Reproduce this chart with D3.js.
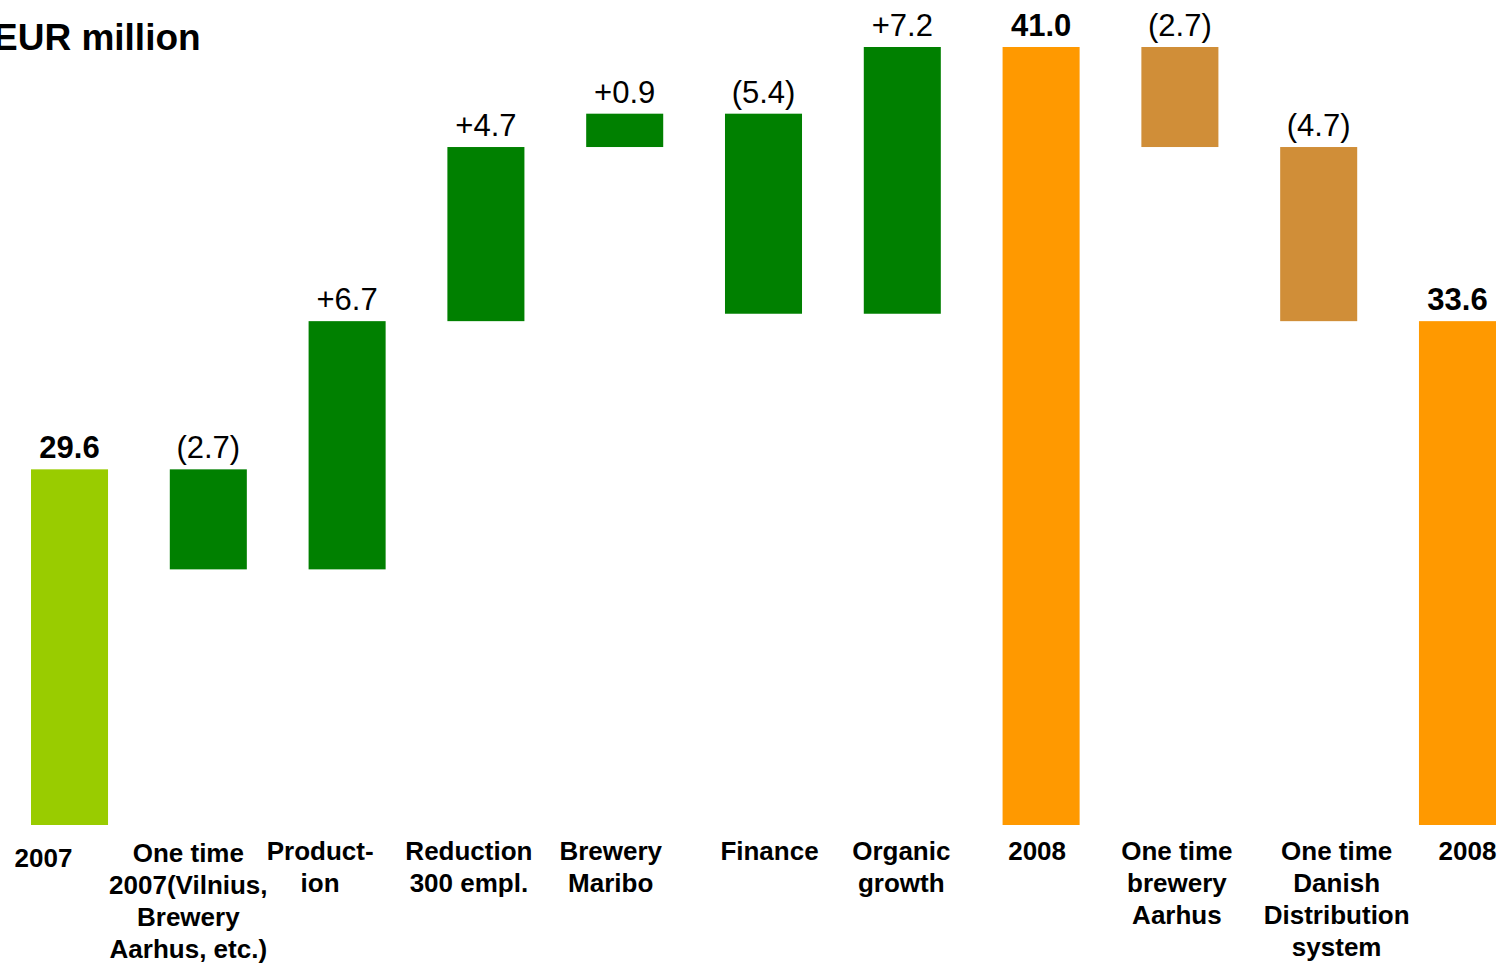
<!DOCTYPE html>
<html>
<head>
<meta charset="utf-8">
<script src="https://cdn.jsdelivr.net/npm/d3@7"></script>
<style>
    body { margin: 0; background: #fff; overflow: hidden; }
    #chart { width: 1501px; height: 963px; }
    text { font-family: 'Liberation Sans', Arial, Helvetica, sans-serif; fill: #000; }
</style>
</head>
<body>
<div id="chart"></div>
<script>
// EBIT bridge 2007 -> 2008, EUR million

const keys = [
    'y2007', 'oneTime2007', 'production', 'reduction', 'maribo', 'finance',
    'organic', 'y2008', 'oneTimeAarhus', 'oneTimeDistribution', 'y2008adj',
];
const categoryLines = [
    ['2007'],
    ['One time', '2007(Vilnius,', 'Brewery', 'Aarhus, etc.)'],
    ['Product-', 'ion'],
    ['Reduction', '300 empl.'],
    ['Brewery', 'Maribo'],
    ['Finance'],
    ['Organic', 'growth'],
    ['2008'],
    ['One time', 'brewery', 'Aarhus'],
    ['One time', 'Danish', 'Distribution', 'system'],
    ['2008'],
];
// totals are levels, the rest are changes
const values = [29.6, -2.7, 6.7, 4.7, 0.9, -5.4, 7.2, 41.0, -2.7, -4.7, 33.6];
const isTotal = [true, false, false, false, false, false, false, true, false, false, true];
// the value axis is cut: bars stand on 20, not on 0
const axisDomain = [20, 41];
const title = 'EUR million';

class WaterfallChart {
    marginObj = {
        top: 47, right: 5, bottom: 138, left: 31,
    };
    outerWidth = 1501;
    outerHeight = 963;
    rows = [];
    colors = {
        start: '#99cc00', gain: '#008000', total: '#ff9900', oneOff: '#d08e38',
    };
    // hand placed text boxes in the original slide
    labelDx = [-26, -20, -27, -17, -14, 6, -1, -4, -3, 18, 10];
    labelDy = [7, 2, 0, 0, 0, 0, 0, 0, 0, 0, 0];

    constructor(node) {
        this.container = d3.select(node);
        this.container.selectAll('*').remove();
    }

    data = () => {
        let running = 0;
        let stage = 0;
        this.rows = keys.map((key, i) => {
            const v = values[i];
            const lines = categoryLines[i];
            if (isTotal[i]) {
                running = v;
                stage += 1;
                return {
                    key, lines, stage, total: true, from: axisDomain[0], to: v, label: v.toFixed(1),
                };
            }
            const from = running;
            running += v;
            return {
                key,
                lines,
                stage,
                total: false,
                from,
                to: running,
                label: v > 0 ? `+${v.toFixed(1)}` : `(${(-v).toFixed(1)})`,
            };
        });
        return this;
    };

    fill = (d) => {
        if (d.total) return d.stage === 1 ? this.colors.start : this.colors.total;
        return d.stage === 1 ? this.colors.gain : this.colors.oneOff;
    };

    render = () => {
        const {
            top, right, bottom, left,
        } = this.marginObj;
        const width = this.outerWidth - left - right;
        const height = this.outerHeight - top - bottom;

        const svg = this.container.append('svg')
            .attr('width', this.outerWidth)
            .attr('height', this.outerHeight);
        const g = svg.append('g')
            .attr('transform', `translate(${[left, top]})`);

        this.xScale = d3.scaleBand()
            .domain(keys)
            .range([0, width])
            .paddingInner(0.445)
            .paddingOuter(0);
        this.yScale = d3.scaleLinear()
            .domain(axisDomain)
            .range([height, 0]);
        const x = this.xScale;
        const y = this.yScale;
        const bw = x.bandwidth();

        g.selectAll('.bar')
            .data(this.rows, (d) => d.key)
            .join('rect')
            .attr('class', 'bar')
            .attr('x', (d) => x(d.key))
            .attr('width', bw)
            .attr('y', (d) => y(Math.max(d.from, d.to)))
            .attr('height', (d) => Math.abs(y(d.from) - y(d.to)))
            .attr('fill', this.fill);

        g.selectAll('.value')
            .data(this.rows, (d) => d.key)
            .join('text')
            .attr('class', 'value')
            .attr('x', (d) => x(d.key) + bw / 2)
            .attr('y', (d) => y(Math.max(d.from, d.to)) - 11)
            .attr('text-anchor', 'middle')
            .style('font-size', '31px')
            .style('font-weight', (d) => (d.total ? 'bold' : 'normal'))
            .text((d) => d.label);

        const cats = g.selectAll('.cat')
            .data(this.rows, (d) => d.key)
            .join('text')
            .attr('class', 'cat')
            .attr('text-anchor', 'middle')
            .style('font-size', '26px')
            .style('font-weight', 'bold')
            .attr('transform', (d, i) => `translate(${[
                x(d.key) + bw / 2 + this.labelDx[i],
                height + 35 + this.labelDy[i],
            ]})`);
        cats.selectAll('tspan')
            .data((d) => d.lines)
            .join('tspan')
            .attr('x', 0)
            .attr('y', (d, i) => i * 32)
            .text((d) => d);

        // cut at the left edge, as on the slide
        svg.append('text')
            .attr('x', -7)
            .attr('y', 50)
            .style('font-size', '37px')
            .style('font-weight', 'bold')
            .text(title);

        return this;
    };
}

new WaterfallChart('#chart').data().render();
</script>
</body>
</html>
